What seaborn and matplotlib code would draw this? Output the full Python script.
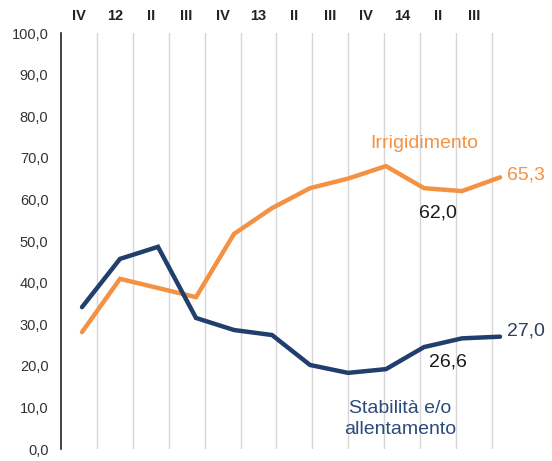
import numpy as np
import pandas as pd
import matplotlib
matplotlib.use("Agg")
import matplotlib.pyplot as plt
import seaborn as sns

cats = ["IV", "12", "II", "III", "IV", "13", "II", "III", "IV", "14", "II", "III"]
irrigidimento = [28.1, 40.9, 38.7, 36.5, 51.7, 57.9, 62.7, 65.0, 68.0, 62.7, 62.0, 65.3]
stabilita = [34.1, 45.7, 48.6, 31.5, 28.6, 27.4, 20.2, 18.3, 19.2, 24.5, 26.6, 27.0]
yticks = [0, 10, 20, 30, 40, 50, 60, 70, 80, 90, 100]

ORANGE = "#F39243"
BLUE = "#213F6D"

sns.set_style("white")
plt.rcParams["font.family"] = ["Liberation Sans", "DejaVu Sans"]

df = pd.DataFrame({
    "x": list(range(len(cats))) * 2,
    "val": irrigidimento + stabilita,
    "serie": ["Irrigidimento"] * len(cats) + ["Stabilità"] * len(cats),
})

W, H = 552, 461
fig = plt.figure(figsize=(W / 100, H / 100), dpi=100)
ax_left, ax_right, ax_top, ax_bot = 61, 540, 33, 449
ax = fig.add_axes([ax_left / W, 1 - ax_bot / H, (ax_right - ax_left) / W, (ax_bot - ax_top) / H])

# secondary axis for category grid & labels
axc = ax.twiny()
umin = -0.5
umax = umin + (ax_right - ax_left) / 35.9
axc.set_xlim(umin, umax)
for k in range(len(cats)):
    axc.axvline(k + 0.5, color="#D6D6D6", lw=1.0, zorder=0)
axc.set_xticks(range(len(cats)))
axc.set_xticklabels(cats, fontsize=10.5, fontweight="bold", color="#222222")
axc.tick_params(axis="x", length=0, pad=7)
for s in axc.spines.values():
    s.set_visible(False)

sns.lineplot(data=df, x="x", y="val", hue="serie", palette=[ORANGE, BLUE],
             linewidth=3.2, ax=ax, legend=False, zorder=3)
for line in ax.lines:
    line.set_solid_joinstyle("miter")
ax.set_zorder(axc.get_zorder() + 1)
ax.patch.set_visible(False)

xmin = -(82 - ax_left) / 38.0
xmax = xmin + (ax_right - ax_left) / 38.0
ax.set_xlim(xmin, xmax)
ax.set_ylim(0, 100)
ax.set_xticks([])
ax.set_yticks(yticks)
ax.set_yticklabels([f"{v:.1f}".replace(".", ",") for v in yticks], fontsize=10.5, color="#333333")
ax.tick_params(axis="y", length=0, pad=9)
ax.set_xlabel("")
ax.set_ylabel("")
for side in ["top", "right", "bottom"]:
    ax.spines[side].set_visible(False)
ax.spines["left"].set_color("#222222")
ax.spines["left"].set_linewidth(1.2)

def px2x(p):
    return xmin + (p - ax_left) / 38.0

def py2y(p):
    return (ax_bot - p) / ((ax_bot - ax_top) / 100.0)

fs = 14
ax.text(px2x(424), py2y(143), "Irrigidimento", color=ORANGE, fontsize=fs, ha="center", va="center")
ax.text(px2x(507), py2y(175), "65,3", color=ORANGE, fontsize=fs, ha="left", va="center")
ax.text(px2x(438), py2y(213), "62,0", color="#1A1A1A", fontsize=fs, ha="center", va="center")
ax.text(px2x(507), py2y(331), "27,0", color="#2E3E5E", fontsize=fs, ha="left", va="center")
ax.text(px2x(448), py2y(362), "26,6", color="#1A1A1A", fontsize=fs, ha="center", va="center")
ax.text(px2x(400), py2y(419), "Stabilità e/o\nallentamento", color="#2C4A7C", fontsize=fs,
        ha="center", va="center", linespacing=1.3)

fig.savefig("out.png", dpi=100)
